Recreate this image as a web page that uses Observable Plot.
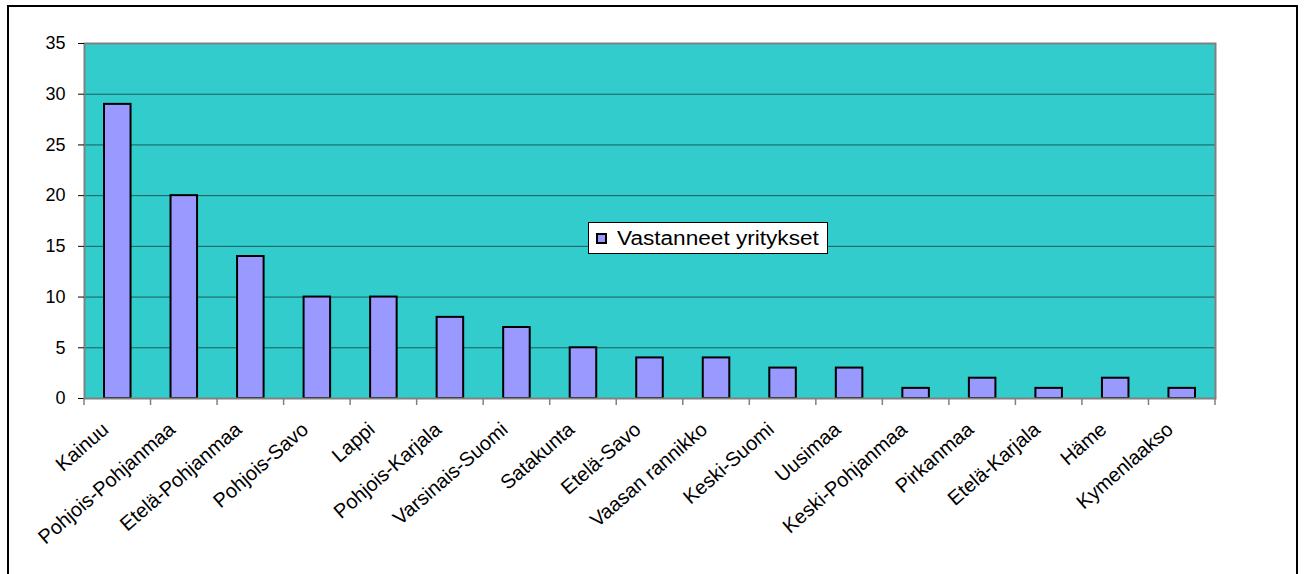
<!DOCTYPE html>
<html>
<head>
<meta charset="utf-8">
<script src="https://cdn.jsdelivr.net/npm/d3@7"></script>
<script src="https://cdn.jsdelivr.net/npm/@observablehq/plot@0.6"></script>
<style>
  html, body { margin: 0; padding: 0; background: #fff; overflow: hidden; }
  #wrap { position: relative; width: 1304px; height: 574px; }
  #border { position: absolute; left: 7px; top: 5px; width: 1291px; height: 600px; border: 2px solid #000; box-sizing: border-box; }
  #chart { position: absolute; left: 0; top: 0; }
  #legend { position: absolute; left: 588px; top: 222px; width: 240px; height: 32px; box-sizing: border-box;
            background: #fff; border: 1px solid #000; font-family: "Liberation Sans", Arial, sans-serif; }
  #legend .sw { position: absolute; left: 7px; top: 10px; width: 11px; height: 11px; background: #9999FF; border: 2px solid #000; box-sizing: border-box; }
  #legend .tx { position: absolute; left: 28px; top: 3px; font-size: 20px; line-height: 24px; color: #000; transform-origin: 0 50%; transform: scaleX(1.13); white-space: nowrap; }
</style>
</head>
<body>
<div id="wrap">
  <div id="border"></div>
  <div id="chart"></div>
  <div id="legend"><div class="sw"></div><div class="tx" id="legendText"></div></div>
</div>
<script>
const categories = ["Kainuu", "Pohjois-Pohjanmaa", "Etelä-Pohjanmaa", "Pohjois-Savo", "Lappi", "Pohjois-Karjala",
  "Varsinais-Suomi", "Satakunta", "Etelä-Savo", "Vaasan rannikko", "Keski-Suomi", "Uusimaa",
  "Keski-Pohjanmaa", "Pirkanmaa", "Etelä-Karjala", "Häme", "Kymenlaakso"];
const values = [29, 20, 14, 10, 10, 8, 7, 5, 4, 4, 3, 3, 1, 2, 1, 2, 1];
const yTicks = [0, 5, 10, 15, 20, 25, 30, 35];
const seriesName = "Vastanneet yritykset";

const data = categories.map((c, i) => ({region: c, value: values[i]}));

const plot = Plot.plot({
  width: 1304,
  height: 574,
  marginLeft: 84,
  marginRight: 89,
  marginTop: 43,
  marginBottom: 176,
  x: {type: "band", domain: categories, paddingInner: 0, paddingOuter: 0, align: 0.5, round: false, label: null},
  y: {domain: [0, 35], label: null},
  style: {fontFamily: "'Liberation Sans', Arial, sans-serif", fontSize: "18px", background: "transparent", color: "#000"},
  marks: [
    Plot.frame({fill: "#33CCCC", stroke: "none"}),
    Plot.gridY(yTicks.filter(d => d > 0), {stroke: "#1c5b5b", strokeOpacity: 1}),
    Plot.barY(data, {x: "region", y: "value", fill: "#9999FF", stroke: "#000", strokeWidth: 2, insetLeft: 20, insetRight: 20}),
    Plot.frame({stroke: "#808080", strokeWidth: 2}),
    Plot.axisY({ticks: yTicks, tickSize: 6, tickPadding: 13, stroke: "#000", label: null}),
    Plot.axisX({tickSize: 0, tickRotate: -41, tickPadding: 28, dx: -12, label: null})
  ]
});

document.getElementById("chart").appendChild(plot);
document.getElementById("legendText").textContent = seriesName;

const svg = d3.select(plot);
svg.selectAll('g[aria-label="x-axis tick label"] text').style("font-size", "20px");

// category boundary tick marks on the x axis, from the plot's own scales
const xs = plot.scale("x");
const ys = plot.scale("y");
const y0 = ys.apply(0);
const bounds = categories.map(c => xs.apply(c));
bounds.push(xs.apply(categories[categories.length - 1]) + xs.bandwidth);
svg.append("g").selectAll("line").data(bounds).join("line")
  .attr("x1", d => d).attr("x2", d => d)
  .attr("y1", y0).attr("y2", y0 + 7)
  .attr("stroke", "#808080").attr("stroke-width", 1.5);
</script>
</body>
</html>
